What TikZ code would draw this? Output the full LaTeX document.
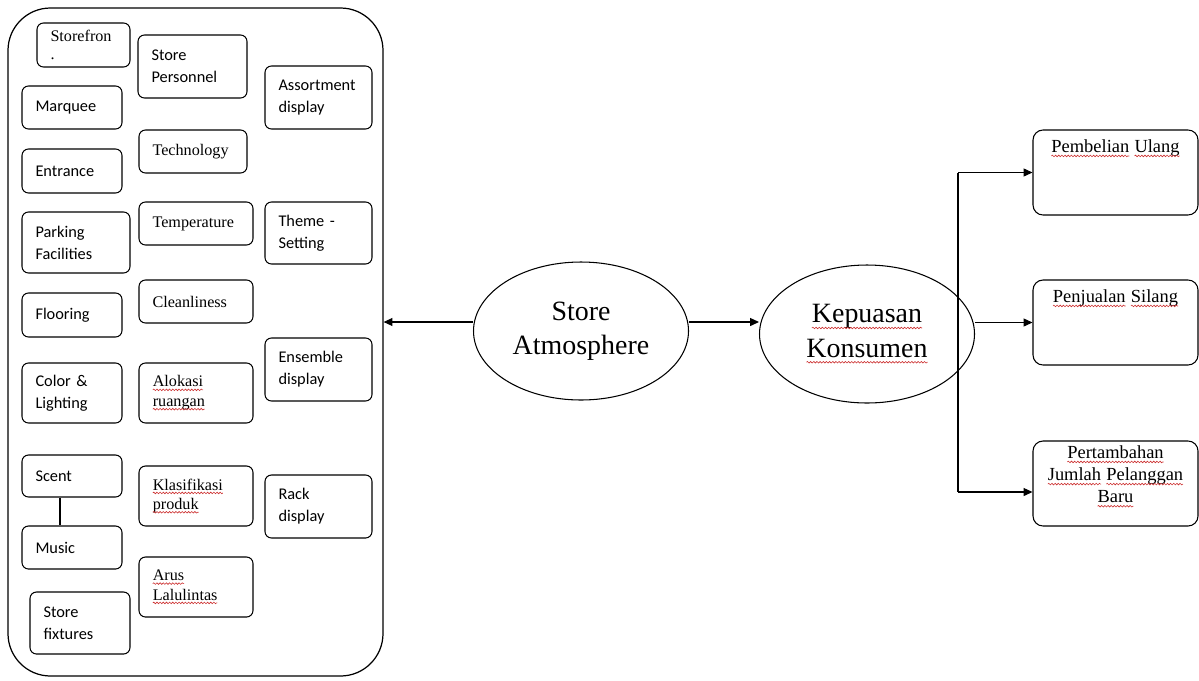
\documentclass[tikz,border=0pt]{standalone}
\usepackage{fontspec}
\setmainfont{Liberation Serif}
\newfontfamily\calibri{Carlito}
\usetikzlibrary{shapes.geometric,arrows.meta,decorations.pathmorphing}

\definecolor{wavered}{RGB}{205,50,50}
\newcommand{\px}{0.02cm}
% red wavy spell-check line under a word
\newcommand{\spell}[1]{\tikz[baseline=(w.base)]{\node[shape=rectangle, draw=none, fill=none, inner sep=0pt, outer sep=0pt,
    minimum width=0pt, minimum height=0pt, text width={}, anchor=base] (w) {#1};
    \draw[wavered, sharp corners, line width=0.35pt, decorate, decoration={snake, amplitude=0.45pt, segment length=1.8pt}]
    ([yshift=-0.18em]w.base west) -- ([yshift=-0.18em]w.base east);}}

\tikzset{
    panel/.style={draw, rounded corners=0.85cm, line width=0.7pt},
    item/.style 2 args={draw, rounded corners=0.13cm, line width=0.6pt, inner xsep=0.27cm, inner ysep=0pt,
        align=left, minimum width=#1*\px, minimum height=#2*\px, text width=(#1-27)*\px},
    sans/.style={font=\calibri\fontsize{9.3}{12.5}\selectfont},
    serif/.style={font=\fontsize{9.2}{11}\selectfont},
    bubble/.style={draw, ellipse, line width=0.6pt, inner sep=0pt, minimum width=215*\px, minimum height=138*\px,
        align=center, font=\fontsize{15.9}{19.5}\selectfont},
    outcome/.style={draw, rounded corners=0.2cm, line width=0.6pt, minimum width=165*\px, minimum height=85*\px},
    outtext/.style={anchor=north, align=center, inner sep=0pt, font=\fontsize{10.5}{12.6}\selectfont},
    tip/.style={-{Triangle[length=5pt,width=4.5pt]}, line width=0.6pt}
}

\begin{document}
\begin{tikzpicture}[x=0.02cm, y=-0.02cm]
    \useasboundingbox (0,0) rectangle (1199,680);

    \node[panel, minimum width=375*\px, minimum height=668*\px] (panel) at (195.5,342) {};

    % left column
    \node[item={93}{44}, serif] (storefront) at (83.5,45) {Storefron\\[-1pt].};
    \node[item={100}{43}, sans] (marquee) at (72,107.5) {Marquee};
    \node[item={100}{44}, sans] (entrance) at (72,171) {Entrance};
    \node[item={108}{61}, sans] (parking) at (76,242.5) {Parking\\Facilities};
    \node[item={100}{44}, sans] (flooring) at (72,315) {Flooring};
    \node[item={100}{60}, sans] (color) at (72,393) {Color \&\\Lighting};
    \node[item={100}{42}, sans] (scent) at (72,476) {Scent};
    \node[item={100}{43}, sans] (music) at (72,547.5) {Music};
    \node[item={100}{62}, sans] (fixtures) at (80,623) {Store\\fixtures};
    \draw[line width=1.6pt] ([xshift=-0.24cm]scent.south) -- ([xshift=-0.24cm]music.north);

    % middle column
    \node[item={109}{63}, sans] (personnel) at (192.5,66.5) {Store\\Personnel};
    \node[item={108}{43}, serif] (technology) at (193,151.5) {Technology};
    \node[item={114}{43}, serif] (temperature) at (196,223.5) {Temperature};
    \node[item={114}{43}, serif] (cleanliness) at (196,301.5) {Cleanliness};
    \node[item={114}{60}, serif] (alokasi) at (196,393) {\spell{Alokasi}\\\spell{ruangan}};
    \node[item={114}{60}, serif] (klasifikasi) at (196,496) {\spell{Klasifikasi}\\\spell{produk}};
    \node[item={114}{60}, serif] (arus) at (196,587) {\spell{Arus}\\\spell{Lalulintas}};

    % right column
    \node[item={107}{63}, sans] (assortment) at (318.5,97.5) {Assortment\\display};
    \node[item={107}{62}, sans] (theme) at (318.5,233) {Theme -\\Setting};
    \node[item={107}{63}, sans] (ensemble) at (318.5,369.5) {Ensemble\\display};
    \node[item={107}{63}, sans] (rack) at (318.5,506.5) {Rack\\display};

    \node[bubble] (store) at (581,331) {Store\\Atmosphere};
    \node[bubble] (kepuasan) at (867,334) {\spell{Kepuasan}\\\spell{Konsumen}};

    \coordinate (sa) at ([yshift=0.18cm]store.west);
    \draw[tip] (sa) -- (sa -| panel.east);
    \coordinate (sk) at ([yshift=0.18cm]store.east);
    \draw[tip] (sk) -- (sk -| kepuasan.west);

    \node[outcome] (pembelian) at (1115.5,172.5) {};
    \node[outcome] (penjualan) at (1115.5,322.5) {};
    \node[outcome] (pertambahan) at (1115.5,483.5) {};
    \node[outtext] (pembeliantxt) at ([yshift=-0.2cm]pembelian.north) {\spell{Pembelian} \spell{Ulang}};
    \node[outtext] (penjualantxt) at ([yshift=-0.2cm]penjualan.north) {\spell{Penjualan} \spell{Silang}};
    \node[outtext] (pertambahantxt) at ([yshift=-0.1cm]pertambahan.north) {\spell{Pertambahan}\\\spell{Jumlah} \spell{Pelanggan}\\\spell{Baru}};

    \coordinate (fork) at (958,174);
    \coordinate (pa) at ([yshift=-0.17cm]pertambahan.west);
    \draw[line width=0.6pt] (pembelian.west -| fork) -- (pa -| fork);
    \draw[tip] (pembelian.west -| fork) -- (pembelian.west);
    \draw[tip] (penjualan.west -| kepuasan.east) -- (penjualan.west);
    \draw[tip] (pa -| fork) -- (pa);
\end{tikzpicture}
\end{document}
